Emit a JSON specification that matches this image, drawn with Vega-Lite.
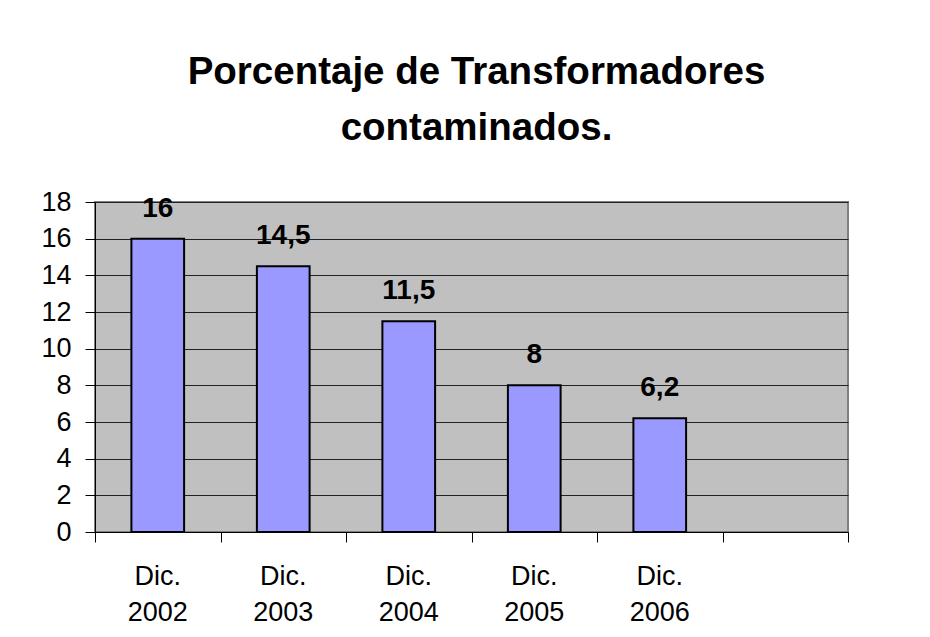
{
  "$schema": "https://vega.github.io/schema/vega-lite/v6.json",
  "width": 753,
  "height": 330,
  "autosize": {"type": "none"},
  "padding": {"left": 95, "top": 202, "right": 82, "bottom": 105},
  "background": "white",
  "config": {
    "font": "Liberation Sans",
    "locale": {"number": {"decimal": ",", "thousands": ".", "grouping": [3], "currency": ["", " €"]}},
    "view": {"fill": "#C0C0C0", "stroke": "#808080", "strokeWidth": 2}
  },
  "title": {
    "text": ["Porcentaje de Transformadores", "contaminados."],
    "fontSize": 38.5,
    "fontWeight": "bold",
    "font": "Liberation Sans",
    "color": "black",
    "anchor": "middle",
    "frame": "group",
    "lineHeight": 56,
    "offset": 40,
    "dx": 5
  },
  "data": {"values": [
    {"periodo": "Dic. 2002", "pct": 16},
    {"periodo": "Dic. 2003", "pct": 14.5},
    {"periodo": "Dic. 2004", "pct": 11.5},
    {"periodo": "Dic. 2005", "pct": 8},
    {"periodo": "Dic. 2006", "pct": 6.2}
  ]},
  "layer": [
    {
      "encoding": {
        "x": {
          "field": "periodo", "type": "nominal", "sort": null,
          "scale": {"domain": ["Dic. 2002", "Dic. 2003", "Dic. 2004", "Dic. 2005", "Dic. 2006", ""], "paddingInner": 0, "paddingOuter": 0},
          "axis": {"title": null, "ticks": false, "domain": false, "grid": false, "labelAngle": 0, "labelExpr": "split(datum.label, ' ')", "labelFontSize": 27, "labelColor": "black", "labelLineHeight": 36, "labelPadding": 31, "orient": "bottom"}
        },
        "y": {
          "field": "pct", "type": "quantitative",
          "scale": {"domain": [0, 18], "nice": false},
          "axis": {"title": null, "values": [0, 2, 4, 6, 8, 10, 12, 14, 16, 18], "labelFontSize": 27, "labelColor": "black", "tickColor": "black", "tickSize": 10, "labelPadding": 14, "grid": true, "gridColor": "#222222", "gridOpacity": 1, "domainColor": "black"}
        }
      },
      "layer": [
        {"mark": {"type": "bar", "fill": "#9999FF", "stroke": "black", "strokeWidth": 2, "width": {"band": 0.42}}},
        {"mark": {"type": "text", "fontSize": 28, "fontWeight": "bold", "color": "black", "baseline": "alphabetic", "dy": -22},
         "encoding": {"text": {"field": "pct", "type": "quantitative", "format": ".1~f"}}}
      ]
    },
    {
      "mark": {"type": "rule", "opacity": 0},
      "encoding": {
        "x": {"datum": 0, "type": "quantitative",
          "scale": {"domain": [0, 6], "nice": false, "zero": false},
          "axis": {"orient": "bottom", "title": null, "values": [0, 1, 2, 3, 4, 5, 6], "labels": false, "ticks": true, "tickSize": 10, "tickColor": "black", "domain": true, "domainColor": "black", "grid": false}}
      }
    }
  ],
  "resolve": {"scale": {"x": "independent"}, "axis": {"x": "independent"}}
}
